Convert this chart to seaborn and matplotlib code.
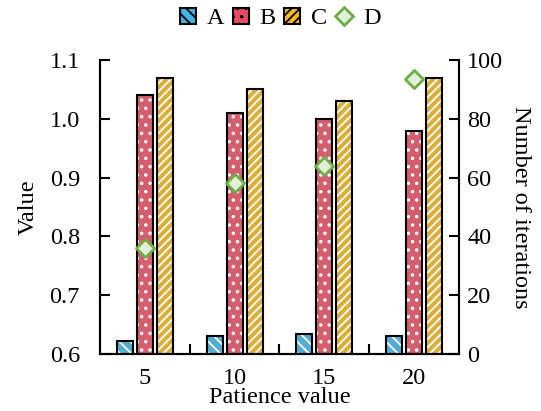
import numpy as np
import pandas as pd
import matplotlib
matplotlib.use("Agg")
import matplotlib.pyplot as plt
from matplotlib.patches import Rectangle, Patch
from matplotlib.lines import Line2D
import seaborn as sns

# Patience settings and measured results
patience = ["5", "10", "15", "20"]
series_a = [0.622, 0.631, 0.634, 0.631]
series_b = [1.04, 1.01, 1.00, 0.98]
series_c = [1.07, 1.05, 1.03, 1.07]
iterations_d = [36, 58, 64, 93.5]

series_names = ["A", "B", "C"]
colors = {"A": "#3db5e8", "B": "#e84a5f", "C": "#f6ba1e"}
hatches = {"A": "\\\\\\", "B": "..", "C": "////"}
d_edge = "#70ad47"
d_face = "#e2f0d9"

FS = 17.5

sns.set_theme(style="ticks")
plt.rcParams["font.family"] = ["Liberation Serif", "DejaVu Serif"]
plt.rcParams["font.size"] = FS
plt.rcParams["hatch.linewidth"] = 1.3
plt.rcParams["axes.linewidth"] = 1.5
for key in ["text.color", "axes.labelcolor", "axes.edgecolor",
            "xtick.color", "ytick.color"]:
    plt.rcParams[key] = "black"

df = pd.DataFrame({
    "patience": patience * 3,
    "value": series_a + series_b + series_c,
    "series": sum([[s] * len(patience) for s in series_names], []),
})

fig = plt.figure(figsize=(5.41, 4.11), dpi=100)
ax = fig.add_axes([0.185, 0.139, 0.663, 0.715])

sns.barplot(data=df, x="patience", y="value", hue="series", order=patience,
            hue_order=series_names, palette=colors, width=0.67, gap=0.2,
            errorbar=None, legend=False, ax=ax)

# white hatch on the fill, black outline drawn on top
for container, name in zip(ax.containers, series_names):
    for bar in container:
        bar.set_hatch(hatches[name])
        bar.set_edgecolor("white")
        bar.set_linewidth(0)
        x0, y0 = bar.get_xy()
        ax.add_patch(Rectangle((x0, y0), bar.get_width(), bar.get_height(),
                               fill=False, edgecolor="black", linewidth=1.5,
                               zorder=bar.get_zorder() + 0.1))

ax.set_ylim(0.6, 1.1)
ax.set_yticks([0.6, 0.7, 0.8, 0.9, 1.0, 1.1])
ax.set_yticklabels(["0.6", "0.7", "0.8", "0.9", "1.0", "1.1"])
ax.set_xlim(-0.5, len(patience) - 0.5)
ax.set_xlabel("Patience value", fontsize=FS, labelpad=-1)
ax.set_ylabel("Value", fontsize=FS, labelpad=8)
ax.tick_params(axis="y", direction="in", length=7, width=1.5, labelsize=FS, pad=14.5)
ax.tick_params(axis="x", which="major", length=0, labelsize=FS, pad=10)
ax.set_xticks(np.arange(len(patience) - 1) + 0.5, minor=True)
ax.tick_params(axis="x", which="minor", direction="in", length=7, width=1.5)
ax.spines["top"].set_visible(False)

ax2 = ax.twinx()
sns.scatterplot(x=np.arange(len(patience)), y=iterations_d, marker="D", s=85,
                color=d_face, edgecolor=d_edge, linewidth=2, ax=ax2, zorder=5)
ax2.set_xlim(-0.5, len(patience) - 0.5)
ax2.set_ylim(0, 100)
ax2.set_yticks([0, 20, 40, 60, 80, 100])
ax2.set_ylabel("Number of iterations", fontsize=FS, rotation=270, labelpad=20)
ax2.tick_params(axis="y", direction="in", length=7, width=1.5, labelsize=FS, pad=6)
ax2.spines["top"].set_visible(False)
ax2.spines["right"].set_linewidth(1.5)

handles = [Patch(facecolor=colors[n], edgecolor="black", hatch=hatches[n], linewidth=1.5)
           for n in series_names]
handles.append(Line2D([], [], linestyle="none", marker="D", markersize=9,
                      markerfacecolor=d_face, markeredgecolor=d_edge, markeredgewidth=2))
leg = fig.legend(handles, series_names + ["D"], loc="center", ncol=4,
                 bbox_to_anchor=(0.5176, 0.955), frameon=False, fontsize=FS,
                 handlelength=0.66, handleheight=0.66, handletextpad=0.45,
                 columnspacing=0.35, borderpad=0)

fig.savefig("out.png", dpi=100)
